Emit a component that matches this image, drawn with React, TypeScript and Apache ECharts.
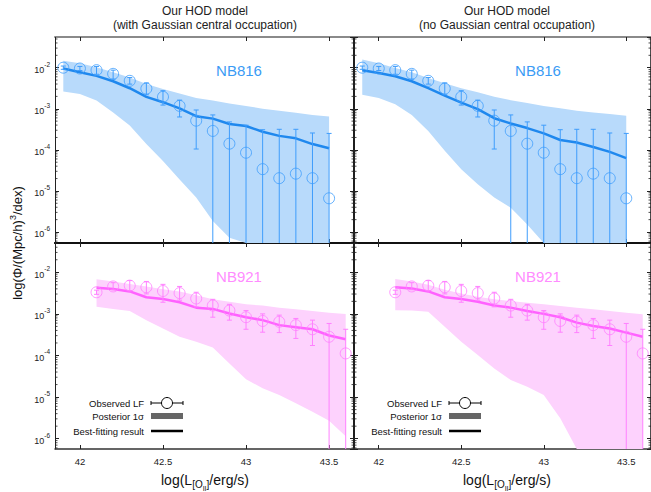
import React, { useEffect, useRef } from 'react';
import * as echarts from 'echarts';

const FONT = '"Liberation Sans", Arial, Helvetica, sans-serif';

// ---------- data (log10 values) ----------
const lum816 = [41.9, 42.0, 42.1, 42.2, 42.3, 42.4, 42.5, 42.6, 42.7, 42.8, 42.9, 43.0, 43.1, 43.2, 43.3, 43.4, 43.5];
const obs816 = [-2.0, -2.02, -2.06, -2.15, -2.32, -2.51, -2.71, -2.93, -3.29, -3.54, -3.85, -4.07, -4.47, -4.69, -4.58, -4.69, -5.18];
const obs816Hi = [-1.96, -1.97, -1.97, -2.06, -2.24, -2.37, -2.56, -2.79, -3.03, -3.15, -3.32, -3.4, -3.51, -3.5, -3.5, -3.59, -3.6];
const obs816Lo = [-2.04, -2.07, -2.16, -2.28, -2.4, -2.66, -2.91, -3.2, -3.98, -9, -9, -9, -9, -9, -9, -9, -9];
const fit816Gauss = [-2.02, -2.11, -2.2, -2.33, -2.5, -2.71, -2.84, -2.99, -3.18, -3.24, -3.37, -3.42, -3.56, -3.66, -3.72, -3.86, -3.96];
const band816GaussHi = [-1.83, -1.89, -1.99, -2.11, -2.24, -2.4, -2.52, -2.63, -2.74, -2.8, -2.87, -2.93, -3.0, -3.05, -3.1, -3.15, -3.19];
const band816GaussLo = [-2.58, -2.64, -2.8, -3.09, -3.41, -3.86, -4.27, -4.72, -5.16, -5.73, -6.14, -6.6, -9, -9, -9, -9, -9];
const fit816NoGauss = [-2.06, -2.13, -2.21, -2.33, -2.5, -2.68, -2.85, -3.01, -3.23, -3.36, -3.47, -3.6, -3.76, -3.82, -3.93, -4.05, -4.2];
const band816NoGaussHi = [-1.8, -1.89, -2.01, -2.11, -2.25, -2.38, -2.5, -2.6, -2.71, -2.79, -2.86, -2.93, -2.99, -3.05, -3.09, -3.13, -3.17];
const band816NoGaussLo = [-2.66, -2.74, -2.89, -3.15, -3.54, -4.02, -4.47, -4.84, -5.16, -5.41, -5.82, -6.3, -9, -9, -9, -9, -9];

const lum921 = [42.1, 42.2, 42.3, 42.4, 42.5, 42.6, 42.7, 42.8, 42.9, 43.0, 43.1, 43.2, 43.3, 43.4, 43.5, 43.6];
const obs921 = [-2.48, -2.34, -2.32, -2.36, -2.45, -2.5, -2.63, -2.8, -2.92, -3.08, -3.17, -3.19, -3.27, -3.37, -3.55, -3.95];
const obs921Hi = [-2.43, -2.25, -2.2, -2.22, -2.29, -2.34, -2.48, -2.65, -2.77, -2.92, -3.0, -3.03, -3.11, -3.15, -3.23, -3.37];
const obs921Lo = [-2.53, -2.42, -2.44, -2.52, -2.72, -2.67, -2.83, -3.08, -3.15, -3.37, -3.44, -3.45, -3.59, -3.76, -9, -9];
const fit921Gauss = [-2.37, -2.4, -2.46, -2.6, -2.64, -2.72, -2.85, -2.88, -2.99, -3.08, -3.15, -3.27, -3.32, -3.37, -3.52, -3.61];
const band921GaussHi = [-2.17, -2.22, -2.28, -2.34, -2.41, -2.46, -2.55, -2.65, -2.71, -2.77, -2.8, -2.85, -2.89, -2.93, -2.97, -3.0];
const band921GaussLo = [-2.83, -2.88, -2.93, -3.15, -3.35, -3.55, -3.67, -3.81, -4.19, -4.57, -4.79, -4.95, -5.15, -5.35, -5.57, -5.94];
const fit921NoGauss = [-2.36, -2.39, -2.46, -2.6, -2.64, -2.71, -2.8, -2.85, -2.93, -3.0, -3.08, -3.21, -3.29, -3.35, -3.45, -3.55];
const band921NoGaussHi = [-2.16, -2.22, -2.3, -2.42, -2.51, -2.59, -2.65, -2.69, -2.73, -2.77, -2.81, -2.85, -2.89, -2.93, -2.97, -3.01];
const band921NoGaussLo = [-2.91, -2.92, -2.95, -3.31, -3.67, -3.99, -4.31, -4.59, -4.75, -4.95, -5.51, -6.4, -9, -9, -9, -9];

const panelTitles = ['Our HOD model\n(with Gaussian central occupation)', 'Our HOD model\n(no Gaussian central occupation)'];
const filterNames = ['NB816', 'NB921'];
const legendLabels = ['Observed LF', 'Posterior 1σ', 'Best-fitting result'];

// ---------- layout ----------
const X_MIN = 41.85;
const X_MAX = 43.65;
const ROW_Y = [[-6.268, -1.253], [-6.248, -1.296]];
const GRIDS = [
  { left: 55, top: 37, width: 299, height: 206 },
  { left: 354, top: 37, width: 300, height: 206 },
  { left: 55, top: 243, width: 299, height: 206 },
  { left: 354, top: 243, width: 300, height: 206 },
];

const BLUE = { line: '#1f88ee', mark: '#3f9dfc', band: '#b8dafb', label: '#3a9bf5' };
const PINK = { line: '#ff62ff', mark: '#ff80ff', band: '#fdd2fd', label: '#ff8cff' };

const panels = [
  { row: 0, lum: lum816, obs: obs816, hi: obs816Hi, lo: obs816Lo, fit: fit816Gauss, bHi: band816GaussHi, bLo: band816GaussLo, c: BLUE },
  { row: 0, lum: lum816, obs: obs816, hi: obs816Hi, lo: obs816Lo, fit: fit816NoGauss, bHi: band816NoGaussHi, bLo: band816NoGaussLo, c: BLUE },
  { row: 1, lum: lum921, obs: obs921, hi: obs921Hi, lo: obs921Lo, fit: fit921Gauss, bHi: band921GaussHi, bLo: band921GaussLo, c: PINK },
  { row: 1, lum: lum921, obs: obs921, hi: obs921Hi, lo: obs921Lo, fit: fit921NoGauss, bHi: band921NoGaussHi, bLo: band921NoGaussLo, c: PINK },
];

function isNear(v: number, step: number) {
  const r = v / step;
  return Math.abs(r - Math.round(r)) < 1e-6;
}

function buildOption() {
  const xAxis: any[] = [];
  const yAxis: any[] = [];
  const series: any[] = [];

  const tickStyle = { show: true, inside: true, length: 4, lineStyle: { color: '#222', width: 1 } };

  // bottom x axes 0..3
  GRIDS.forEach((_, i) => {
    const row = Math.floor(i / 2);
    xAxis.push({
      type: 'value', gridIndex: i, min: X_MIN, max: X_MAX, splitNumber: 4, position: 'bottom',
      axisLine: { show: true, onZero: false, lineStyle: row === 0 ? { color: '#111', width: 2 } : { color: '#333', width: 1.5 } },
      axisTick: tickStyle,
      splitLine: { show: false },
      axisLabel: {
        show: row === 1, fontSize: 9.5, color: '#222', fontFamily: FONT, margin: 7,
        showMinLabel: false, showMaxLabel: false,
        formatter: (v: number) => (isNear(v, 0.5) ? String(v) : ''),
      },
    });
  });
  // top x axes 4..7
  GRIDS.forEach((_, i) => {
    const row = Math.floor(i / 2);
    xAxis.push({
      type: 'value', gridIndex: i, min: X_MIN, max: X_MAX, splitNumber: 4, position: 'top',
      axisLine: { show: true, onZero: false, lineStyle: row === 0 ? { color: '#8a8a8a', width: 2 } : { color: '#111', width: 2 } },
      axisTick: tickStyle,
      splitLine: { show: false },
      axisLabel: { show: false },
    });
  });
  // left y axes 0..3
  GRIDS.forEach((_, i) => {
    const row = Math.floor(i / 2);
    const col = i % 2;
    yAxis.push({
      type: 'value', gridIndex: i, min: ROW_Y[row][0], max: ROW_Y[row][1], splitNumber: 5, position: 'left',
      axisLine: { show: true, onZero: false, lineStyle: col === 0 ? { color: '#222', width: 1 } : { color: '#111', width: 1.5 } },
      axisTick: tickStyle,
      splitLine: { show: false },
      axisLabel: {
        show: col === 0, margin: 5, fontFamily: FONT, color: '#222',
        showMinLabel: false, showMaxLabel: false,
        formatter: (v: number) => (isNear(v, 1) ? `{b|10}{s|${Math.round(v)}}` : ''),
        rich: {
          b: { fontSize: 9, fontFamily: FONT, color: '#222', lineHeight: 14, verticalAlign: 'bottom' },
          s: { fontSize: 6.5, fontFamily: FONT, color: '#222', verticalAlign: 'top', lineHeight: 8 },
        },
      },
    });
  });
  // right y axes 4..7
  GRIDS.forEach((_, i) => {
    const row = Math.floor(i / 2);
    yAxis.push({
      type: 'value', gridIndex: i, min: ROW_Y[row][0], max: ROW_Y[row][1], splitNumber: 5, position: 'right',
      axisLine: { show: true, onZero: false, lineStyle: { color: '#111', width: 1.5 } },
      axisTick: tickStyle,
      splitLine: { show: false },
      axisLabel: { show: false },
    });
  });

  panels.forEach((p, i) => {
    const yMin = ROW_Y[p.row][0];
    const clamp = (v: number) => Math.max(v, yMin);
    // posterior band
    series.push({
      type: 'custom', xAxisIndex: i, yAxisIndex: i, silent: true, z: 1,
      data: [[p.lum[0], p.bHi[0]]],
      renderItem: (_params: any, api: any) => {
        const top = p.lum.map((x, j) => api.coord([x, p.bHi[j]]));
        const bot = p.lum.map((x, j) => api.coord([x, clamp(p.bLo[j])])).reverse();
        return { type: 'polygon', shape: { points: top.concat(bot) }, style: { fill: p.c.band } };
      },
    });
    // best-fit line
    series.push({
      type: 'line', xAxisIndex: i, yAxisIndex: i, z: 3, showSymbol: false, symbol: 'none', silent: true,
      data: p.lum.map((x, j) => [x, p.fit[j]]),
      lineStyle: { color: p.c.line, width: 2.5 },
    });
    // error bars
    series.push({
      type: 'custom', xAxisIndex: i, yAxisIndex: i, silent: true, z: 4,
      data: p.lum.map((x, j) => [x, p.lo[j], p.hi[j]]),
      renderItem: (_params: any, api: any) => {
        const x = api.value(0);
        const loRaw = api.value(1);
        const lo = clamp(loRaw);
        const hi = api.value(2);
        const a = api.coord([x, hi]);
        const b = api.coord([x, lo]);
        const st = { stroke: p.c.mark, lineWidth: 1 };
        const children: any[] = [
          { type: 'line', shape: { x1: a[0], y1: a[1], x2: b[0], y2: b[1] }, style: st },
          { type: 'line', shape: { x1: a[0] - 2.5, y1: a[1], x2: a[0] + 2.5, y2: a[1] }, style: st },
        ];
        if (loRaw > yMin) children.push({ type: 'line', shape: { x1: b[0] - 2.5, y1: b[1], x2: b[0] + 2.5, y2: b[1] }, style: st });
        return { type: 'group', children };
      },
    });
    // observed points
    series.push({
      type: 'scatter', xAxisIndex: i, yAxisIndex: i, z: 5, silent: true,
      symbol: 'circle', symbolSize: 11,
      data: p.lum.map((x, j) => [x, p.obs[j]]),
      itemStyle: { color: 'rgba(255,255,255,0)', borderColor: p.c.mark, borderWidth: 1 },
    });
    // log minor ticks on y axes
    series.push({
      type: 'custom', xAxisIndex: i, yAxisIndex: i, silent: true, z: 6,
      data: [[X_MIN, yMin]],
      renderItem: (params: any, api: any) => {
        const cs = params.coordSys;
        const children: any[] = [];
        for (let n = -7; n <= -1; n++) {
          for (let k = 2; k <= 9; k++) {
            const v = n + Math.log10(k);
            if (v <= ROW_Y[p.row][0] || v >= ROW_Y[p.row][1]) continue;
            const y = api.coord([X_MIN, v])[1];
            children.push({ type: 'line', shape: { x1: cs.x, y1: y, x2: cs.x + 2.5, y2: y }, style: { stroke: '#222', lineWidth: 0.8 } });
            children.push({ type: 'line', shape: { x1: cs.x + cs.width - 2.5, y1: y, x2: cs.x + cs.width, y2: y }, style: { stroke: '#222', lineWidth: 0.8 } });
          }
        }
        return { type: 'group', children };
      },
    });
  });

  const graphic: any[] = [];
  const centers = [205, 507];
  panelTitles.forEach((t, i) => {
    graphic.push({
      type: 'text', x: centers[i], y: 4, silent: true,
      style: { text: t, align: 'center', verticalAlign: 'top', fontSize: 12, lineHeight: 14, fontFamily: FONT, fill: '#222' },
    });
  });
  // filter labels
  const labelPos = [[239, 70], [538, 70], [239, 276], [538, 276]];
  labelPos.forEach((pos, i) => {
    const c = i < 2 ? BLUE : PINK;
    graphic.push({
      type: 'text', x: pos[0], y: pos[1], silent: true,
      style: { text: filterNames[i < 2 ? 0 : 1], align: 'center', verticalAlign: 'middle', fontSize: 15, fontFamily: FONT, fill: c.label },
    });
  });
  // x axis titles
  centers.forEach((cx) => {
    graphic.push({
      type: 'text', x: cx, y: 480, silent: true,
      style: {
        text: '{a|log(L}{b|[O}{c|II}{b|]}{a|/erg/s)}',
        align: 'center', verticalAlign: 'middle',
        rich: {
          a: { fontSize: 14, fontFamily: FONT, fill: '#111', lineHeight: 24, verticalAlign: 'middle' },
          b: { fontSize: 10, fontFamily: FONT, fill: '#111', verticalAlign: 'bottom', lineHeight: 10, padding: [0, 0, 3, 0] },
          c: { fontSize: 7, fontFamily: FONT, fill: '#111', verticalAlign: 'bottom', lineHeight: 7 },
        },
      },
    });
  });
  // y axis title
  graphic.push({
    type: 'text', x: 17, y: 243, rotation: Math.PI / 2, silent: true,
    style: {
      text: '{a|log(Φ/(Mpc/h)}{s|3}{a|/dex)}',
      align: 'center', verticalAlign: 'middle',
      rich: {
        a: { fontSize: 13, fontFamily: FONT, fill: '#111', lineHeight: 18, verticalAlign: 'middle' },
        s: { fontSize: 9, fontFamily: FONT, fill: '#111', verticalAlign: 'top', lineHeight: 9 },
      },
    },
  });
  // legends
  [0, 298].forEach((dx) => {
    const tx = 144 + dx;
    const x0 = 151 + dx;
    const x1 = 183 + dx;
    const ys = [403, 416, 431];
    legendLabels.forEach((t, k) => {
      graphic.push({
        type: 'text', x: tx, y: ys[k], silent: true,
        style: { text: t, align: 'right', verticalAlign: 'middle', fontSize: 9.5, fontFamily: FONT, fill: '#111' },
      });
    });
    graphic.push({ type: 'line', silent: true, shape: { x1: x0, y1: ys[0], x2: x1, y2: ys[0] }, style: { stroke: '#000', lineWidth: 1 } });
    graphic.push({ type: 'line', silent: true, shape: { x1: x0, y1: ys[0] - 2, x2: x0, y2: ys[0] + 2 }, style: { stroke: '#000', lineWidth: 1 } });
    graphic.push({ type: 'line', silent: true, shape: { x1: x1, y1: ys[0] - 2, x2: x1, y2: ys[0] + 2 }, style: { stroke: '#000', lineWidth: 1 } });
    graphic.push({ type: 'circle', silent: true, shape: { cx: (x0 + x1) / 2, cy: ys[0], r: 5.5 }, style: { fill: '#fff', stroke: '#000', lineWidth: 1 } });
    graphic.push({ type: 'rect', silent: true, shape: { x: x0, y: ys[1] - 3, width: x1 - x0, height: 6 }, style: { fill: '#666' } });
    graphic.push({ type: 'line', silent: true, shape: { x1: x0, y1: ys[2], x2: x1, y2: ys[2] }, style: { stroke: '#000', lineWidth: 2.5 } });
  });

  return {
    animation: false,
    backgroundColor: '#fff',
    grid: GRIDS.map((g) => ({ ...g, containLabel: false })),
    xAxis,
    yAxis,
    series,
    graphic,
  };
}

export default function App() {
  const ref = useRef<HTMLDivElement>(null);
  useEffect(() => {
    if (!ref.current) return;
    const chart = echarts.init(ref.current, null, { renderer: 'svg' });
    chart.setOption(buildOption() as any);
    return () => chart.dispose();
  }, []);
  return <div ref={ref} style={{ position: 'absolute', left: 0, top: 0, width: 651, height: 492 }} />;
}
